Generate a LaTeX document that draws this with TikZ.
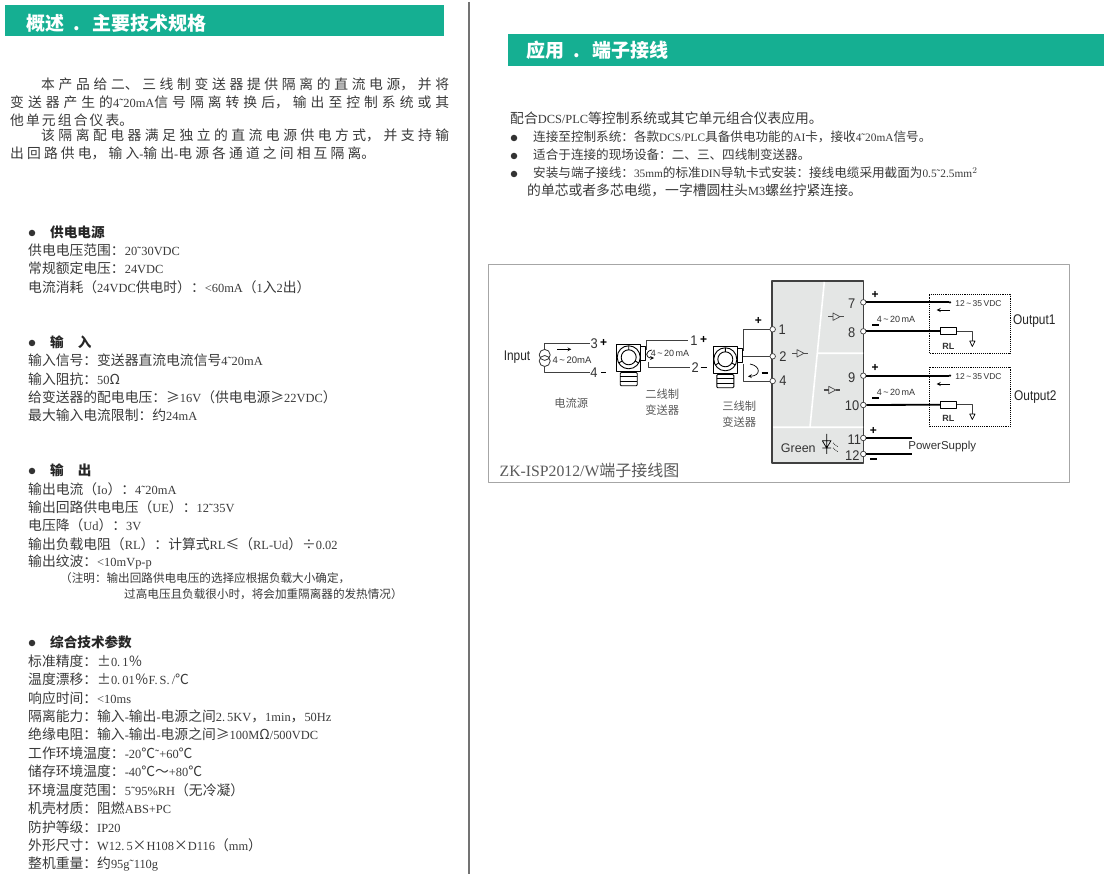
\documentclass[tikz,border=0pt]{standalone}
\usepackage{fontspec}
\setmainfont{Noto Sans CJK SC}
\newfontfamily\latn[Scale=0.9]{Liberation Serif}
\newfontfamily\arial{Liberation Sans}
\newcommand{\la}[1]{{\latn #1}}
\newcommand{\just}[1]{\XeTeXlinebreaklocale "zh"\XeTeXlinebreakskip=0pt plus 6pt\parfillskip=0pt #1\par}
\newcommand{\tld}{\,\textasciitilde\,}
\definecolor{bandgreen}{HTML}{15AF92}
\definecolor{txtgray}{HTML}{3A3A3A}
\definecolor{labgray}{HTML}{5A5A5A}
\definecolor{boxgray}{HTML}{E4E6E5}
\definecolor{linegray}{HTML}{404040}
\tikzset{
  band/.style={fill=bandgreen,draw=none},
  bandtxt/.style={anchor=west,inner sep=0pt,text=white,font=\fontsize{19}{20}\selectfont\bfseries},
  body/.style={anchor=west,inner sep=0pt,text=txtgray,font=\fontsize{13.8}{15}\selectfont},
  small/.style={anchor=west,inner sep=0pt,text=txtgray,font=\fontsize{11.6}{13}\selectfont},
  mid/.style={anchor=west,inner sep=0pt,text=txtgray,font=\fontsize{12.6}{14}\selectfont},
  head/.style={anchor=west,inner sep=0pt,text=black!85,font=\fontsize{13.6}{15}\selectfont\bfseries},
  para/.style={anchor=west,inner sep=0pt,text=txtgray,text width=#1,align=justify,font=\fontsize{13.8}{15}\selectfont},
  dot/.style={circle,fill=black!80,minimum size=6.5pt,inner sep=0pt},
  term/.style={circle,draw=linegray,fill=white,line width=.7pt,minimum size=5.5pt,inner sep=0pt},
  num/.style={inner sep=0pt,text=black!80,xscale=.92,font=\arial\fontsize{14}{16}\selectfont},
  wide/.style={inner sep=0pt,text=black!85,xscale=.85,font=\arial\fontsize{14}{16}\selectfont},
  lab/.style={inner sep=0pt,text=black!80,font=\arial\fontsize{9}{11}\selectfont},
  cjklab/.style={inner sep=0pt,text=labgray,font=\fontsize{11.3}{13}\selectfont},
  sign/.style={inner sep=0pt,text=black,font=\arial\bfseries\fontsize{12}{13}\selectfont},
  wire/.style={line width=.7pt,draw=black!75},
  thick wire/.style={line width=1.8pt,draw=black},
  load/.style={rectangle,draw=black,fill=white,line width=.9pt,minimum width=16pt,minimum height=7pt,inner sep=0pt},
  loop/.style={draw=black,densely dotted,line width=.9pt},
  buffer/.pic={
    \draw[line width=1.3pt,draw=black!70] (-8,0)--(-3,0) (4,0)--(8,0);
    \draw[line width=.7pt,draw=black!70] (-3,-3.7)--(4,0)--(-3,3.7)--cycle;
  },
  transmitter/.pic={
    \draw[line width=.9pt,fill=white] (12,-10.5) rectangle (17,3);
    \draw[line width=.9pt,fill=white] (-12.3,-13.3) rectangle (12,13.7);
    \draw[line width=.9pt] (0,0) circle [radius=11.5pt];
    \draw[line width=.9pt] (0,0) circle [radius=7.5pt];
    \draw[line width=.9pt] (0,-7.5)--(0,-11.5) (6.5,3.7)--(10,5.7) (-6.5,3.7)--(-10,5.7);
    \draw[line width=.9pt] (-4,13.7) rectangle (4,15.2);
    \draw[line width=.9pt,fill=white,rounded corners=1pt] (-8.5,15.2) rectangle (8.5,28.5);
    \draw[line width=.9pt] (-8.5,19.6)--(8.5,19.6) (-8.5,24)--(8.5,24);
  }
}
\begin{document}
\begin{tikzpicture}[x=1pt,y=-1pt,>=stealth,line join=round]
\useasboundingbox (0,0) rectangle (1112,874);
\fill[white] (0,0) rectangle (1112,874);
% bands and centre rule
\path[band] (5,5) rectangle (444,36);
\path[band] (508,34) rectangle (1104,66);
\draw[line width=2pt,draw=black!55] (468.5,2)--(468.5,874);
\node[bandtxt] (title1) at (26,23) {概述\hspace{9pt}.\hspace{13pt}主要技术规格};
\node[bandtxt] (title2) at (526,50.5) {应用\hspace{9pt}.\hspace{13pt}端子接线};
% intro
\node[para=408pt] (p1) at (41,84) {\just{本产品给二、三线制变送器提供隔离的直流电源，并将}};
\node[para=439pt] (p2) at (10,102) {\just{变送器产生的\la{4˜20mA}信号隔离转换后，输出至控制系统或其}};
\node[para=123pt] (p3) at (10,120) {\just{他单元组合仪表。}};
\node[para=408pt] (p4) at (41,135) {\just{该隔离配电器满足独立的直流电源供电方式，并支持输}};
\node[para=365pt] (p5) at (10,153) {\just{出回路供电，输入\la{-}输出\la{-}电源各通道之间相互隔离。}};
% power
\node[dot] (d1) at (32,233) {};
\node[head] (h1) at (50,232) {供电电源};
\node[body] (a1) at (28,250) {供电电压范围：\la{20˜30VDC}};
\node[body] (a2) at (28,268.5) {常规额定电压：\la{24VDC}};
\node[body] (a3) at (28,287) {电流消耗（\la{24VDC}供电时）：\la{<60mA}（\la{1}入\la{2}出）};
% input
\node[dot] (d2) at (32,343) {};
\node[head] (h2) at (50,342) {输\hspace{14pt}入};
\node[body] (b1) at (28,360.5) {输入信号：变送器直流电流信号\la{4˜20mA}};
\node[body] (b2) at (28,379) {输入阻抗：\la{50}Ω};
\node[body] (b3) at (28,397) {给变送器的配电电压：≥\la{16V}（供电电源≥\la{22VDC}）};
\node[body] (b4) at (28,415.5) {最大输入电流限制：约\la{24mA}};
% output
\node[dot] (d3) at (32,471) {};
\node[head] (h3) at (50,470) {输\hspace{14pt}出};
\node[body] (c1) at (28,489) {输出电流（\la{Io}）：\la{4˜20mA}};
\node[body] (c2) at (28,507) {输出回路供电电压（\la{UE}）：\la{12˜35V}};
\node[body] (c3) at (28,525) {电压降（\la{Ud}）：\la{3V}};
\node[body] (c4) at (28,544) {输出负载电阻（\la{RL}）：计算式\la{RL}≤（\la{RL-Ud}）÷\la{0.02}};
\node[body] (c5) at (28,562.5) {输出纹波：\la{<10mVp-p}};
\node[small] (c6) at (60,578.5) {（注明：输出回路供电电压的选择应根据负载大小确定，};
\node[small] (c7) at (124,594.5) {过高电压且负载很小时，将会加重隔离器的发热情况）};
% general
\node[dot] (d4) at (32,643) {};
\node[head] (h4) at (50,642) {综合技术参数};
\node[body] (g1) at (28,661) {标准精度：±\la{0.\,1}％};
\node[body] (g2) at (28,679) {温度漂移：±\la{0.\,01}％\la{F.\,S.\,/}℃};
\node[body] (g3) at (28,698) {响应时间：\la{<10ms}};
\node[body] (g4) at (28,716) {隔离能力：输入\la{-}输出\la{-}电源之间\la{2.\,5KV}，\la{1min}，\la{50Hz}};
\node[body] (g5) at (28,734) {绝缘电阻：输入\la{-}输出\la{-}电源之间≥\la{100M}Ω\la{/500VDC}};
\node[body] (g6) at (28,753) {工作环境温度：\la{-20}℃\la{˜+60}℃};
\node[body] (g7) at (28,771) {储存环境温度：\la{-40}℃～\la{+80}℃};
\node[body] (g8) at (28,790) {环境温度范围：\la{5˜95\%RH}（无冷凝）};
\node[body] (g9) at (28,808) {机壳材质：阻燃\la{ABS+PC}};
\node[body] (g10) at (28,827) {防护等级：\la{IP20}};
\node[body] (g11) at (28,845) {外形尺寸：\la{W12.\,5}×\la{H108}×\la{D116}（\la{mm}）};
\node[body] (g12) at (28,864) {整机重量：约\la{95g˜110g}};
% application
\node[body] (r0) at (510,118) {配合\la{DCS/PLC}等控制系统或其它单元组合仪表应用。};
\node[dot] (d5) at (514,138) {};
\node[mid] (r1) at (533,137) {连接至控制系统：各款\la{DCS/PLC}具备供电功能的\la{AI}卡，接收\la{4˜20mA}信号。};
\node[dot] (d6) at (514,156) {};
\node[mid] (r2) at (533,155) {适合于连接的现场设备：二、三、四线制变送器。};
\node[dot] (d7) at (514,174) {};
\node[mid] (r3) at (533,173) {安装与端子接线：\la{35mm}的标准\la{DIN}导轨卡式安装：接线电缆采用截面为\la{0.5˜2.5mm$^2$}};
\node[body] (r4) at (527,190.5) {的单芯或者多芯电缆，一字槽圆柱头\la{M3}螺丝拧紧连接。};
% wiring figure
\draw[line width=1pt,draw=black!35] (488,265) rectangle (1069,483);
\node[anchor=west,inner sep=0pt,text=labgray,font=\fontsize{16}{18}\selectfont] (cap) at (499.5,470.5) {{\latn\fontsize{17.5}{18}\selectfont ZK-ISP2012/W}端子接线图};
% module
\draw[fill=boxgray,draw=linegray,line width=1.8pt] (772,281) rectangle (863.5,463);
\draw[white,line width=1.6pt] (824.3,282)--(810,427) (818,353.3)--(863,353.3) (773,427.3)--(863,427.3);
\pic at (836,316.7) {buffer};
\pic at (800,353.3) {buffer};
\pic at (831.7,390) {buffer};
% terminals
\node[term] (t1) at (772.7,329.3) {};
\node[term] (t2) at (772.7,356.3) {};
\node[term] (t4) at (772.7,381) {};
\node[term] (t7) at (863.3,302.3) {};
\node[term] (t8) at (863.3,331.3) {};
\node[term] (t9) at (863.3,375.7) {};
\node[term] (t10) at (863.3,405) {};
\node[term] (t11) at (863.3,438) {};
\node[term] (t12) at (863.3,454) {};
\node[num] (n1) at (782.3,329.7) {1};
\node[num] (n2) at (783,356.7) {2};
\node[num] (n4) at (783,381) {4};
\node[num] (n7) at (851.7,303.3) {7};
\node[num] (n8) at (851.7,332.3) {8};
\node[num] (n9) at (851.7,377.3) {9};
\node[num] (n10) at (852,405.3) {10};
\node[num] (n11) at (854.3,440) {11};
\node[num] (n12) at (852.3,455.3) {12};
\node[inner sep=0pt,text=black!80,font=\arial\fontsize{12.5}{14}\selectfont] (green) at (798.3,448) {Green};
% led
\draw[line width=.7pt] (826.7,434)--(826.7,454) (822.3,440.7)--(831,440.7)--(826.7,448)--cycle (822.3,448)--(831,448);
\draw[line width=.7pt,densely dotted] (833,443)--(838,447) (833,448)--(838,452);
% outputs
\node[circle,fill=black,minimum size=2.5pt,inner sep=0pt] (s1) at (950,302.3) {};
\node[circle,fill=black,minimum size=2.5pt,inner sep=0pt] (s2) at (950,375.7) {};
\node[load] (l1) at (948.7,331.3) {};
\node[load] (l2) at (948.7,404.7) {};
\draw[thick wire] (t7)--(s1);
\draw[thick wire] (t8)--(l1);
\draw[thick wire] (t9)--(s2);
\draw[thick wire] (t10)--(l2);
\coordinate (g1a) at (972.3,341);
\coordinate (g2a) at (972.3,414);
\draw[wire] (l1.east)-|(g1a);
\draw[wire] (l2.east)-|(g2a);
\draw[line width=.7pt] (969.7,341)--(975,341)--(972.3,346.5)--cycle;
\draw[line width=.7pt] (969.7,414)--(975,414)--(972.3,419.5)--cycle;
\draw[loop] (929,294.7) rectangle (1010,353);
\draw[loop] (929,367.3) rectangle (1010,426.7);
\draw[->,line width=.8pt] (950,310)--(936.7,310);
\draw[->,line width=.8pt] (950,384)--(936.7,384);
\node[lab,font=\arial\fontsize{8.5}{10}\selectfont] (v1) at (978.5,303.5) {12\tld 35\,VDC};
\node[lab,font=\arial\fontsize{8.5}{10}\selectfont] (v2) at (978.5,377) {12\tld 35\,VDC};
\node[lab] (i1) at (896,319) {4\tld 20\,mA};
\node[lab] (i2) at (896,392.7) {4\tld 20\,mA};
\node[lab,font=\arial\bfseries\fontsize{9}{11}\selectfont] (rl1) at (948.3,346) {RL};
\node[lab,font=\arial\bfseries\fontsize{9}{11}\selectfont] (rl2) at (948.3,418.5) {RL};
\node[wide] (out1) at (1034.3,321.3) {Output1};
\node[wide] (out2) at (1035.3,396.7) {Output2};
\node[sign] (p7) at (875,294.7) {+};
\node[sign] (m8) at (875.5,325.5) {\rule{6.5pt}{2pt}};
\node[sign] (p9) at (875,368) {+};
\node[sign] (m10) at (875.5,398.5) {\rule{6.5pt}{2pt}};
\node[sign] (p11) at (873.3,430.5) {+};
\node[sign] (m12) at (873.3,459.5) {\rule{6.5pt}{2pt}};
% power supply
\coordinate (e11) at (911.7,438);
\coordinate (e12) at (911.7,454);
\draw[line width=1.4pt] (t11.east)--(e11);
\draw[line width=2.2pt] (t12.east)--(e12);
\node[lab,font=\arial\fontsize{11.5}{13}\selectfont] (psu) at (942.3,446.3) {PowerSupply};
% current source
\node[wide] (inp) at (517,357.5) {Input};
\node[circle,draw=black!80,line width=.8pt,minimum size=11pt,inner sep=0pt] (c1a) at (544.7,354.9) {};
\node[circle,draw=black!80,line width=.8pt,minimum size=11pt,inner sep=0pt] (c1b) at (544.7,361) {};
\coordinate (s3) at (589.7,343);
\coordinate (s4) at (589.7,372.3);
\draw[wire] (c1a.north)|-(s3);
\draw[wire] (c1b.south)|-(s4);
\draw[->,line width=.7pt] (557.3,349.3)--(571.3,349.3);
\node[lab,font=\arial\fontsize{9.5}{11}\selectfont] (i3) at (572,360.7) {4\tld 20mA};
\node[num] (n3) at (594.3,343.5) {3};
\node[num] (n5) at (594,372.7) {4};
\node[sign] (p3) at (603.7,343.3) {+};
\node[sign] (m3) at (603.7,373) {\rule{5pt}{1pt}};
\node[cjklab] (src) at (571.3,403) {电流源};
% two-wire transmitter
\pic at (628.7,357.3) {transmitter};
\coordinate (w1a) at (646,350);
\coordinate (w1b) at (688,340.7);
\coordinate (w2a) at (648,362);
\coordinate (w2b) at (689.7,367.3);
\draw[wire] (w1a)|-(w1b);
\draw[wire] (w2a)|-(w2b);
\draw[->,line width=.7pt] (652,350) .. controls (645,351) and (645,358) .. (654,358);
\node[lab] (i4) at (670,353.7) {4\tld 20\,mA};
\node[num] (n6) at (694,340.7) {1};
\node[num] (n0) at (695.3,367.7) {2};
\node[sign] (p1) at (703.7,340) {+};
\node[sign] (m1) at (703.7,367.7) {\rule{6pt}{1.5pt}};
\node[cjklab] (two1) at (662.3,394) {二线制};
\node[cjklab] (two2) at (662.3,409.7) {变送器};
% three-wire transmitter
\pic at (725.3,359.3) {transmitter};
\coordinate (x1a) at (743,351);
\coordinate (x2a) at (742.5,356.3);
\coordinate (x3a) at (743,364);
\draw[wire] (x1a)|-(t1);
\draw[wire] (x2a)--(t2);
\draw[wire] (x3a)|-(t4);
\node[sign] (p2) at (758.3,321.3) {+};
\node[sign] (m2) at (764.5,373) {\rule{6pt}{1.2pt}};
\draw[->,line width=.7pt] (750,364) .. controls (761,366) and (761,376) .. (748,376.3);
\node[cjklab] (thr1) at (739.3,405.7) {三线制};
\node[cjklab] (thr2) at (739.3,421.7) {变送器};
\end{tikzpicture}
\end{document}
